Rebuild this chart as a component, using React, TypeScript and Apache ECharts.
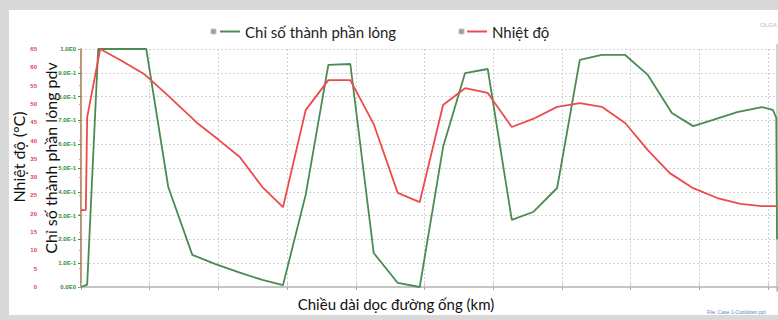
import React, { useEffect, useRef } from "react";
import * as echarts from "echarts";

// ---- data ----
const liquidName = "Chỉ số thành phần lỏng";
const tempName = "Nhiệt độ";

const liquidKm = [0, 0.09, 0.25, 0.95, 1.27, 1.62, 1.95, 2.31, 2.64, 2.94, 3.27, 3.6, 3.92, 4.26, 4.61, 4.93, 5.27, 5.59, 5.92, 6.27, 6.58, 6.93, 7.26, 7.58, 7.92, 8.25, 8.6, 8.91, 9.2, 9.55, 9.91, 10.07, 10.12, 10.13];
const liquidIndex = [0, 0.01, 1.0, 1.0, 0.42, 0.135, 0.097, 0.06, 0.03, 0.008, 0.387, 0.933, 0.937, 0.143, 0.017, 0.0, 0.588, 0.899, 0.916, 0.282, 0.315, 0.416, 0.954, 0.975, 0.975, 0.891, 0.731, 0.676, 0.702, 0.735, 0.756, 0.744, 0.71, 0.2];

const tempKm = [0, 0.07, 0.09, 0.28, 0.57, 0.9, 0.99, 1.26, 1.69, 1.99, 2.31, 2.64, 2.94, 3.27, 3.6, 3.92, 4.26, 4.61, 4.93, 5.27, 5.59, 5.92, 6.27, 6.58, 6.93, 7.26, 7.58, 7.92, 8.25, 8.57, 8.91, 9.26, 9.6, 9.91, 10.13];
const tempC = [21, 21, 46.4, 65, 62, 58.4, 57, 52.4, 44.8, 40.4, 35.5, 27.3, 21.8, 48.3, 56.5, 56.5, 44.5, 25.7, 23.2, 49.7, 54.3, 53.0, 43.7, 45.9, 49.2, 50.2, 49.2, 44.8, 37.4, 31.1, 27.0, 24.3, 22.7, 22.1, 22.1];

const xMin = 0;
const xMax = 10.13;
const xStep = 1;
const liqMin = 0;
const liqMax = 1;
const liqStep = 0.1;
const tMin = 0;
const tMax = 65;
const tStep = 5;

const xTitle = "Chiều dài dọc đường ống (km)";
const yTempTitle = "Nhiệt độ (°C)";
const yLiqTitle = "Chỉ số thành phần lỏng pdv";

const FONT = 'Lato, "Noto Sans", sans-serif';
const GREEN = "#4b8b52";
const RED = "#ec4b4b";

function fmtLiquid(v: number): string {
  if (v <= 0.0001) return "0.0E0";
  if (v >= 0.9999) return "1.0E0";
  return (Math.round(v * 10)).toFixed(1) + "E-1";
}

export default function App() {
  const ref = useRef<HTMLDivElement>(null);

  useEffect(() => {
    if (!ref.current) return;
    const chart = echarts.init(ref.current, undefined, { renderer: "svg" });
    const liqData = liquidKm.map((x, i) => [x, liquidIndex[i]]);
    const tData = tempKm.map((x, i) => [x, tempC[i]]);
    const dotted = { color: "#d2d2d2", type: [2, 2] as any, width: 1 };

    chart.setOption({
      animation: false,
      backgroundColor: "#ffffff",
      grid: { left: 72, right: 1, top: 39, bottom: 28, containLabel: false },
      legend: [
        {
          data: [liquidName],
          left: 211,
          top: 14,
          padding: 0,
          icon: "rect",
          itemWidth: 20,
          itemHeight: 2,
          selectedMode: false,
          textStyle: { fontSize: 15, color: "#222", fontFamily: FONT },
        },
        {
          data: [tempName],
          left: 458,
          top: 14,
          padding: 0,
          icon: "rect",
          itemWidth: 20,
          itemHeight: 2,
          selectedMode: false,
          textStyle: { fontSize: 15, color: "#222", fontFamily: FONT },
        },
      ],
      xAxis: [
        {
          type: "value",
          min: xMin,
          max: xMax,
          interval: xStep,
          position: "bottom",
          offset: 5,
          axisLine: { show: true, lineStyle: { color: "#6e6e6e", width: 1.5 } },
          axisTick: { show: true, length: 3, lineStyle: { color: "#aaa" } },
          axisLabel: { show: false },
          splitLine: { show: true, lineStyle: dotted },
        },
        {
          type: "value",
          min: xMin,
          max: xMax,
          interval: xStep,
          position: "top",
          offset: 5,
          axisLine: { show: true, lineStyle: { color: "#c4c4c4", width: 2 } },
          axisTick: { show: true, length: 4, lineStyle: { color: "#ccc" } },
          axisLabel: { show: false },
          splitLine: { show: false },
        },
      ],
      yAxis: [
        {
          type: "value",
          min: liqMin,
          max: liqMax,
          interval: liqStep,
          position: "left",
          axisLine: { show: true, lineStyle: { color: "#3f9a45", width: 1.5 } },
          axisTick: { show: true, length: 3, lineStyle: { color: "#3f9a45" } },
          axisLabel: {
            formatter: fmtLiquid,
            color: "#2f8f36",
            fontSize: 6,
            fontWeight: "bold",
            fontFamily: "Liberation Sans, Arial, sans-serif",
            margin: 5,
          },
          splitLine: { show: true, lineStyle: dotted },
        },
        {
          type: "value",
          min: tMin,
          max: tMax,
          interval: tStep,
          position: "left",
          offset: 41,
          axisLine: { show: true, lineStyle: { color: "#f08a8a", width: 1.2 } },
          axisTick: { show: true, length: 2, lineStyle: { color: "#f08a8a" } },
          axisLabel: {
            color: "#e04848",
            fontSize: 6,
            fontWeight: "bold",
            fontFamily: "Liberation Sans, Arial, sans-serif",
            margin: 3,
          },
          splitLine: { show: false },
        },
      ],
      graphic: [
        {
          type: "line",
          silent: true,
          shape: { x1: 768, y1: 34, x2: 768, y2: 282 },
          style: { stroke: "#c4c4c4", lineWidth: 1.5 },
        },
        {
          type: "rect",
          silent: true,
          shape: { x: 202, y: 19, width: 5, height: 5 },
          style: { fill: "#9c9c9c", stroke: "#c8c8c8", lineWidth: 1 },
        },
        {
          type: "rect",
          silent: true,
          shape: { x: 450, y: 19, width: 5, height: 5 },
          style: { fill: "#9c9c9c", stroke: "#c8c8c8", lineWidth: 1 },
        },
        {
          type: "text",
          silent: true,
          x: 9,
          y: 147,
          rotation: Math.PI / 2,
          style: {
            text: yTempTitle,
            fontSize: 16,
            fontFamily: FONT,
            fill: "#111",
            align: "center",
            verticalAlign: "middle",
          },
        },
        {
          type: "text",
          silent: true,
          x: 41,
          y: 148,
          rotation: Math.PI / 2,
          style: {
            text: yLiqTitle,
            fontSize: 16,
            fontFamily: FONT,
            fill: "#111",
            align: "center",
            verticalAlign: "middle",
          },
        },
        {
          type: "text",
          silent: true,
          x: 387,
          y: 294,
          style: {
            text: xTitle,
            fontSize: 15,
            fontFamily: FONT,
            fill: "#111",
            align: "center",
            verticalAlign: "middle",
          },
        },
        {
          type: "text",
          silent: true,
          x: 751,
          y: 15,
          style: {
            text: "OLGA",
            fontSize: 6,
            fontFamily: "Liberation Sans, Arial, sans-serif",
            fill: "#b8b8b8",
            align: "left",
            verticalAlign: "middle",
          },
        },
        {
          type: "text",
          silent: true,
          x: 698,
          y: 302,
          style: {
            text: "File: Case 1-Cooldown.ppl",
            fontSize: 5,
            fontFamily: "Liberation Sans, Arial, sans-serif",
            fill: "#6a86b8",
            align: "left",
            verticalAlign: "middle",
          },
        },
      ],
      series: [
        {
          name: liquidName,
          type: "line",
          xAxisIndex: 0,
          yAxisIndex: 0,
          data: liqData,
          showSymbol: false,
          symbol: "none",
          color: GREEN,
          lineStyle: { color: GREEN, width: 1.8 },
          z: 3,
        },
        {
          name: tempName,
          type: "line",
          xAxisIndex: 0,
          yAxisIndex: 1,
          data: tData,
          showSymbol: false,
          symbol: "none",
          color: RED,
          lineStyle: { color: RED, width: 1.8 },
          z: 4,
        },
      ],
    });

    return () => chart.dispose();
  }, []);

  return (
    <div
      style={{
        position: "fixed",
        left: 0,
        top: 0,
        width: 778,
        height: 320,
        background: "#d9d9d9",
        overflow: "hidden",
      }}
    >
      <div
        ref={ref}
        style={{
          position: "absolute",
          left: 9,
          top: 10,
          width: 769,
          height: 305,
          background: "#ffffff",
        }}
      />
    </div>
  );
}
